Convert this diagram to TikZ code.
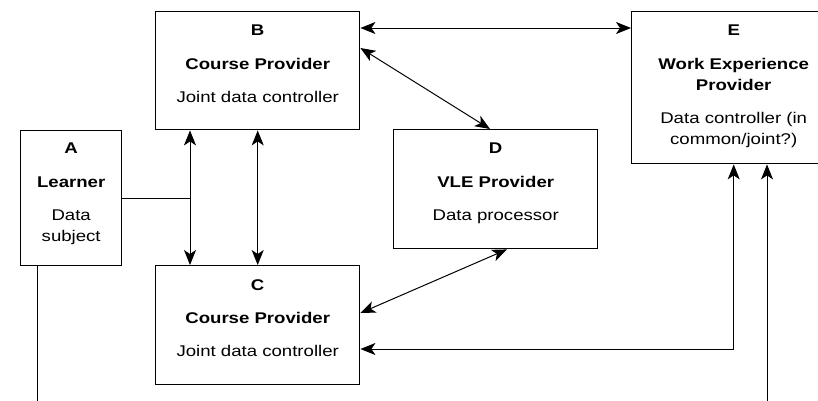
\documentclass[tikz,border=0pt]{standalone}
\usepackage{fontspec}
\setmainfont{Liberation Sans}[FakeStretch=1.2]
\usetikzlibrary{arrows.meta}
\begin{document}
\begin{tikzpicture}[x=1pt, y=-1pt,
  >={Stealth[length=15pt, width=12pt, inset=4pt]},
  box/.style={draw, line width=1.4pt, rectangle, inner sep=0pt, anchor=north west,
              minimum width=204pt, minimum height=118pt},
  txt/.style={align=center, inner sep=0pt, anchor=north,
              font=\fontsize{15.5}{21}\selectfont},
  conn/.style={line width=1pt}]
\useasboundingbox (0,0) rectangle (818,400);
\clip (0,0) rectangle (818,400);

% boxes
\node[box, minimum width=101pt, minimum height=135pt] (A) at (20,130) {};
\node[box] (B) at (155,11) {};
\node[box, minimum height=119pt] (C) at (155,265) {};
\node[box, minimum height=119pt] (D) at (393,129) {};
\node[box, minimum height=152pt] (E) at (631,11) {};

% box texts
\node[txt] (At) at ([yshift=-13pt]A.north) {\textbf{A}\\[12.5pt]\textbf{Learner}\\[12pt]Data\\subject};
\node[txt] (Bt) at ([yshift=-14pt]B.north) {\textbf{B}\\[12.5pt]\textbf{Course Provider}\\[12pt]Joint data controller};
\node[txt] (Ct) at ([yshift=-14pt]C.north) {\textbf{C}\\[12.5pt]\textbf{Course Provider}\\[12pt]Joint data controller};
\node[txt] (Dt) at ([yshift=-14pt]D.north) {\textbf{D}\\[12.5pt]\textbf{VLE Provider}\\[12pt]Data processor};
\node[txt] (Et) at ([yshift=-14pt]E.north) {\textbf{E}\\[12.5pt]\textbf{Work Experience}\\\textbf{Provider}\\[12pt]Data controller (in\\common/joint?)};

% free ends running off the bottom edge
\coordinate (join) at (190,198);
\coordinate (Aout) at (37,410);
\coordinate (Eout) at (767,410);

% connectors
\draw[conn, <->] ([yshift=-17pt]B.north east) -- ([yshift=-17pt]E.north west);
\draw[conn, <->] ([yshift=-37pt]B.north east) -- ([xshift=97pt]D.north west);
\draw[conn, <->] ([xshift=114pt]D.south west) -- ([yshift=-48pt]C.north east);
\draw[conn, <->] ([xshift=35pt]B.south west) -- ([xshift=35pt]C.north west);
\draw[conn, <->] (B.south) -- (C.north);
\draw[conn] (A.east) -- (A.east -| join);
\draw[conn, <->] ([yshift=-84pt]C.north east) -| (E.south);
\draw[conn, ->] (Eout) -- (E.south -| Eout);
\draw[conn] (A.south -| Aout) -- (Aout);
\end{tikzpicture}
\end{document}
